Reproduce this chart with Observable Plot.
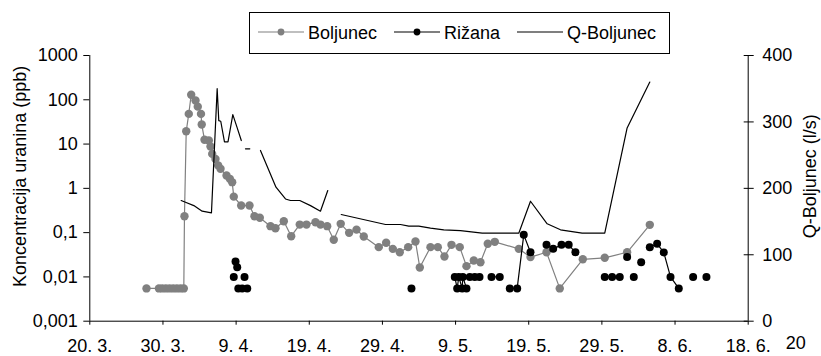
<!DOCTYPE html>
<html>
<head>
<meta charset="utf-8">
<script src="https://cdn.jsdelivr.net/npm/d3@7"></script>
<script src="https://cdn.jsdelivr.net/npm/@observablehq/plot@0.6"></script>
<style>
  body { margin: 0; background: #fff; }
  #wrap { position: relative; width: 821px; height: 356px; font-family: "Liberation Sans", Arial, sans-serif; }
  #wrap svg.overlay { position: absolute; left: 0; top: 0; pointer-events: none; }
</style>
</head>
<body>
<div id="wrap"></div>
<script>
// ---------- DATA (x = days after 20. 3.) ----------
const seriesNames = ["Boljunec", "Rižana", "Q-Boljunec"];

const xTickDays = [0, 10, 20, 30, 40, 50, 60, 70, 80, 90];
const xTickLabels = ["20. 3.", "30. 3.", "9. 4.", "19. 4.", "29. 4.", "9. 5.", "19. 5.", "29. 5.", "8. 6.", "18. 6."];
const xExtraLabel = [{d: 96.5, label: "20"}];

const yTicks = [0.001, 0.01, 0.1, 1, 10, 100, 1000];
const yTickLabels = ["0,001", "0,01", "0,1", "1", "10", "100", "1000"];
const qTicks = [0, 100, 200, 300, 400];

const yTitle = "Koncentracija uranina (ppb)";
const qTitle = "Q-Boljunec (l/s)";

// Boljunec uranine concentration (ppb)
const boljunecDays = [7.75, 9.45, 9.9, 10.4, 10.9, 11.4, 11.9, 12.4, 12.85, 12.94, 13.18, 13.53, 13.86, 14.45, 14.76, 15.2, 15.3,
  15.68, 16.27, 16.5, 16.73, 17.18, 17.55, 17.87, 18.69, 19.14, 19.46, 19.68, 20.69, 21.83, 22.51, 23.24, 24.7, 25.38,
  26.52, 27.53, 28.7, 29.62, 30.85, 31.53, 32.45, 33.35, 34.3, 35.45, 36.46, 37.45, 39.5, 40.51, 41.42, 42.37, 43.52,
  44.52, 45.11, 46.57, 47.57, 48.48, 49.44, 50.57, 51.49, 52.49, 53.4, 54.4, 55.36, 58.64, 60.24, 62.43, 64.24, 67.39,
  70.39, 73.45, 76.55];
const boljunecValues = [0.0055, 0.0055, 0.0055, 0.0055, 0.0055, 0.0055, 0.0055, 0.0055, 0.0055, 0.235, 19.5, 48, 130, 96, 70, 48, 27.7,
  12.5, 12, 8.8, 6.0, 4.6, 3.3, 2.76, 1.95, 1.64, 1.38, 0.65, 0.41, 0.41, 0.235, 0.216, 0.14, 0.126,
  0.181, 0.083, 0.152, 0.152, 0.172, 0.152, 0.14, 0.069, 0.158, 0.099, 0.117, 0.082, 0.047, 0.059, 0.043, 0.036, 0.047,
  0.063, 0.0163, 0.047, 0.047, 0.029, 0.053, 0.047, 0.0175, 0.0235, 0.0215, 0.056, 0.062, 0.043, 0.028, 0.036, 0.0055, 0.025,
  0.027, 0.036, 0.15];

// Rižana uranine concentration (ppb); null = gap in the line
const rizanaDays = [19.68, null, 19.92, null, 20.15, null, 20.3, null, 20.83, null, 21.15, null, 21.52, null,
  43.97, null,
  49.89, 50.22, 50.44, 50.9, 50.99, 51.49, null,
  51.94, 52.62, 53.27, null,
  54.91, 56.04, null,
  57.41, 58.42, 59.32, 60.24, null,
  62.43, 63.34, 64.48, 65.46, 66.38, null,
  70.39, 71.4, 72.44, null,
  73.45, null, 74.36, null, 75.37, null,
  76.55, 77.55, 78.46, 79.38, 80.51, null,
  82.47, null, 84.29];
const rizanaValues = [0.01, null, 0.0223, null, 0.0166, null, 0.0055, null, 0.0055, null, 0.01, null, 0.0055, null,
  0.0055, null,
  0.01, 0.0055, 0.01, 0.0055, 0.01, 0.0055, null,
  0.01, 0.01, 0.01, null,
  0.01, 0.01, null,
  0.0055, 0.0055, 0.089, 0.036, null,
  0.053, 0.043, 0.053, 0.053, 0.036, null,
  0.01, 0.01, 0.01, null,
  0.028, null, 0.01, null, 0.0215, null,
  0.047, 0.056, 0.0358, 0.01, 0.0055, null,
  0.01, null, 0.01];

// Q-Boljunec discharge (l/s); null = gap in the line
const qDays = [12.49, 13.08, 14.22, 15.36, 16.63, 17.41, 17.63, 17.9, 18.41, 18.89, 19.55, 20.15, 20.71, null,
  21.28, 21.87, null,
  23.33, 25.45, 26.75, 27.43, 28.7, 30.17, 31.53, 32.53, null,
  34.36, 40.42, 42.47, 43.6, 44.97, 46.57, 48.39, 50.67, 53.64, 58.64, 60.24, 62.52, 64.34, 67.3, 70.39, 73.45, 76.55];
const qValues = [181.7, 179, 174, 165.6, 163, 350, 302, 301, 270, 270, 311, 291, 272, null,
  259.5, 259.5, null,
  257, 201.7, 184, 181.7, 181.7, 174, 165.6, 196.7, null,
  160.6, 145.6, 145.6, 143, 143, 140, 137.6, 136.5, 132.5, 132.5, 180.6, 146.6, 137.6, 132.5, 132.5, 291, 360];

// ---------- BUILD ----------
const qMax = qTicks[qTicks.length - 1];
const qToY = q => (q == null ? NaN : 10 ** (-3 + q * 6 / qMax)); // secondary axis mapped onto primary log scale

const bolj = boljunecDays.map((d, i) => ({d, v: boljunecValues[i]}));
const riz = rizanaDays.map((d, i) => ({d: d == null ? NaN : d, v: rizanaValues[i] == null ? NaN : rizanaValues[i]}));
const rizPts = riz.filter(p => !isNaN(p.v));
const qData = qDays.map((d, i) => ({d: d == null ? NaN : d, q: qValues[i]}));
const qAxis = qTicks.map(q => ({q, y: qToY(q)}));

const font = "'Liberation Sans', Arial, sans-serif";
const gray = "#808080";

const chart = Plot.plot({
  width: 821,
  height: 356,
  marginLeft: 89.3,
  marginRight: 73.3,
  marginTop: 55,
  marginBottom: 35.3,
  style: {fontFamily: font, fontSize: "18px", background: "#fff", color: "#000", overflow: "visible"},
  x: {domain: [xTickDays[0], xTickDays[xTickDays.length - 1]]},
  y: {type: "log", domain: [yTicks[0], yTicks[yTicks.length - 1]]},
  marks: [
    Plot.axisX({ticks: xTickDays, tickFormat: d => xTickLabels[xTickDays.indexOf(d)], tickSize: 4, tickPadding: 14, label: null, fontSize: 18}),
    Plot.axisY({ticks: yTicks, tickFormat: d => yTickLabels[yTicks.indexOf(d)], tickSize: 6, tickPadding: 6, label: null, fontSize: 18}),
    Plot.axisY({anchor: "right", ticks: qAxis.map(t => t.y), tickSize: 10, dx: -5, tickFormat: () => "", label: null}),
    Plot.text(qAxis, {y: "y", text: t => String(t.q), frameAnchor: "right", textAnchor: "start", dx: 14, fontSize: 18}),
    Plot.ruleX([xTickDays[0], xTickDays[xTickDays.length - 1]], {stroke: "#000", strokeWidth: 1}),
    Plot.ruleY([yTicks[0]], {stroke: "#000", strokeWidth: 1}),
    Plot.text(xExtraLabel, {x: "d", text: "label", frameAnchor: "bottom", dy: 22, lineAnchor: "middle", fontSize: 18}),
    Plot.text([yTitle], {text: d => d, frameAnchor: "left", textAnchor: "middle", rotate: -90, dx: -70, dy: -12, fontSize: 18}),
    Plot.text([qTitle], {text: d => d, frameAnchor: "right", textAnchor: "middle", rotate: -90, dx: 62, dy: -12, fontSize: 18}),
    // Boljunec
    Plot.line(bolj, {x: "d", y: "v", stroke: gray, strokeWidth: 1.2}),
    Plot.dot(bolj, {x: "d", y: "v", r: 4.2, fill: gray, stroke: "none"}),
    // Rižana
    Plot.line(riz, {x: "d", y: "v", stroke: "#000", strokeWidth: 1.2}),
    Plot.dot(rizPts, {x: "d", y: "v", r: 4, fill: "#000", stroke: "none"}),
    // Q-Boljunec (secondary axis)
    Plot.line(qData, {x: "d", y: p => qToY(p.q), stroke: "#000", strokeWidth: 1.2})
  ]
});

const wrap = document.getElementById("wrap");
wrap.appendChild(chart);

// ---------- LEGEND ----------
const leg = d3.select(wrap).append("svg")
  .attr("class", "overlay")
  .attr("width", 821).attr("height", 356)
  .style("font-family", font).style("font-size", "18px");

leg.append("rect")
  .attr("x", 249.5).attr("y", 12.5).attr("width", 420).attr("height", 41)
  .attr("fill", "#fff").attr("stroke", "#000").attr("stroke-width", 1);

const legendItems = [
  {name: seriesNames[0], x0: 258, color: gray, marker: true},
  {name: seriesNames[1], x0: 394, color: "#000", marker: true},
  {name: seriesNames[2], x0: 517, color: "#000", marker: false}
];
const ly = 32;
legendItems.forEach(it => {
  leg.append("line").attr("x1", it.x0).attr("x2", it.x0 + 46).attr("y1", ly).attr("y2", ly)
    .attr("stroke", it.color).attr("stroke-width", 1.2);
  if (it.marker) leg.append("circle").attr("cx", it.x0 + 23).attr("cy", ly).attr("r", 3.4).attr("fill", it.color);
  leg.append("text").attr("x", it.x0 + 50).attr("y", 38.5).attr("fill", "#000").text(it.name);
});
</script>
</body>
</html>
